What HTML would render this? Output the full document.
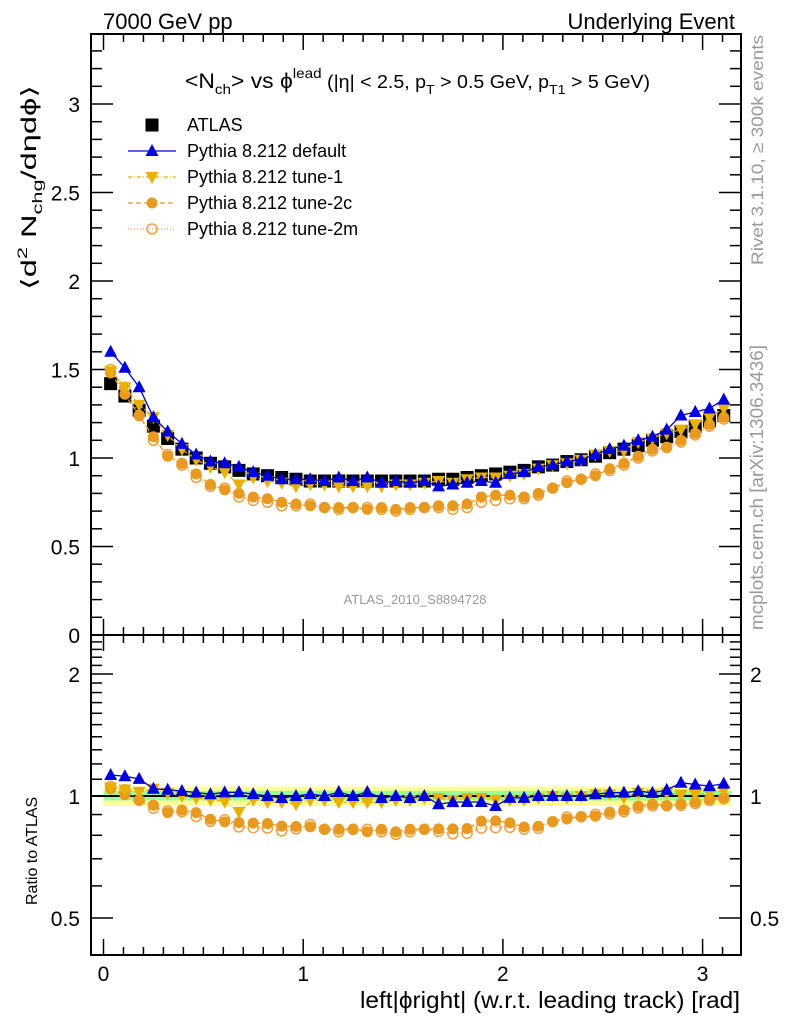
<!DOCTYPE html>
<html><head><meta charset="utf-8"><style>
html,body{margin:0;padding:0;background:#fff}
svg{display:block;font-family:"Liberation Sans",sans-serif}
</style></head><body>
<svg id="chart" width="786" height="1024" viewBox="0 0 786 1024" xmlns="http://www.w3.org/2000/svg">
<g id="bands"></g>
<g id="axes"></g>
<g id="marks"></g>
<text x="103" y="29" font-size="22">7000 GeV pp</text>
<text x="735" y="29" font-size="22" text-anchor="end">Underlying Event</text>
<text x="185" y="88" font-size="21" textLength="465" lengthAdjust="spacingAndGlyphs">&lt;N<tspan font-size="14" dy="6">ch</tspan><tspan dy="-6">&gt; vs ϕ</tspan><tspan font-size="14" dy="-10">lead</tspan><tspan font-size="18" dy="10"> (|η| &lt; 2.5, p</tspan><tspan font-size="13" dy="6">T</tspan><tspan font-size="18" dy="-6"> &gt; 0.5 GeV, p</tspan><tspan font-size="13" dy="6">T1</tspan><tspan font-size="18" dy="-6"> &gt; 5 GeV)</tspan></text>
<text transform="translate(36,290) rotate(-90)" font-size="21" textLength="205" lengthAdjust="spacingAndGlyphs">⟨d<tspan font-size="14" dy="-9">2</tspan><tspan dy="9"> N</tspan><tspan font-size="14" dy="6">chg</tspan><tspan dy="-6">/dηdϕ⟩</tspan></text>
<text transform="translate(37,905) rotate(-90)" font-size="16">Ratio to ATLAS</text>
<text x="740" y="1008" font-size="23" text-anchor="end" textLength="380" lengthAdjust="spacingAndGlyphs">left|ϕright| (w.r.t. leading track) [rad]</text>
<text x="415" y="604" font-size="13" fill="#999" text-anchor="middle">ATLAS_2010_S8894728</text>
<text transform="translate(763,265) rotate(-90)" font-size="17" fill="#999" textLength="230" lengthAdjust="spacingAndGlyphs">Rivet 3.1.10, ≥ 300k events</text>
<text transform="translate(763,630) rotate(-90)" font-size="18" fill="#999" textLength="285" lengthAdjust="spacingAndGlyphs">mcplots.cern.ch [arXiv:1306.3436]</text>
<g id="legend"></g>
</svg>
<script>
const xs=[];
const nb=44;
const atlas=[1.42,1.35,1.27,1.18,1.11,1.05,1.00,0.97,0.95,0.93,0.91,0.90,0.89,0.88,0.87,0.87,0.87,0.87,0.87,0.87,0.87,0.87,0.87,0.88,0.88,0.89,0.90,0.91,0.92,0.93,0.95,0.96,0.98,0.99,1.01,1.03,1.05,1.07,1.10,1.12,1.15,1.18,1.21,1.24];
const pDefault=[1.60,1.51,1.40,1.23,1.15,1.08,1.02,0.98,0.97,0.95,0.92,0.90,0.88,0.88,0.88,0.87,0.89,0.87,0.89,0.86,0.87,0.86,0.87,0.84,0.85,0.86,0.87,0.86,0.91,0.92,0.95,0.96,0.98,0.99,1.02,1.05,1.07,1.10,1.12,1.16,1.24,1.26,1.28,1.33];
const pTune1=[1.49,1.40,1.30,1.23,1.13,1.05,0.99,0.95,0.92,0.85,0.89,0.87,0.86,0.84,0.85,0.85,0.84,0.84,0.84,0.84,0.85,0.85,0.86,0.87,0.86,0.88,0.89,0.89,0.90,0.91,0.94,0.96,0.97,0.99,1.02,1.04,1.04,1.09,1.11,1.14,1.16,1.19,1.23,1.28];
const pTune2c=[1.48,1.36,1.24,1.12,1.01,0.97,0.91,0.85,0.82,0.80,0.78,0.77,0.75,0.74,0.73,0.72,0.72,0.72,0.71,0.72,0.71,0.72,0.72,0.73,0.73,0.74,0.78,0.79,0.79,0.78,0.80,0.83,0.86,0.88,0.90,0.94,0.97,1.01,1.05,1.06,1.10,1.14,1.19,1.23];
const pTune2m=[1.50,1.40,1.24,1.10,1.02,0.96,0.89,0.84,0.83,0.78,0.76,0.75,0.73,0.73,0.74,0.72,0.71,0.72,0.72,0.71,0.70,0.71,0.72,0.72,0.71,0.72,0.75,0.76,0.77,0.77,0.79,0.83,0.87,0.88,0.91,0.93,0.96,1.00,1.04,1.06,1.09,1.13,1.18,1.22];
const mainTicks=[0,0.5,1,1.5,2,2.5,3];
const mainTickLabels=["0","0.5","1","1.5","2","2.5","3"];
const ratioTicks=[0.5,1,2];
const ratioTickLabels=["0.5","1","2"];
const xTicks=[0,1,2,3];
const xTickLabels=["0","1","2","3"];
for(let i=0;i<nb;i++) xs.push((i+0.5)*Math.PI/nb);

const NS="http://www.w3.org/2000/svg";
const L=91,R=741,T1=34,B1=635,B2=955;
const X=v=>103.5+v*199.7;
const Y=v=>635-v*177;
const YR=v=>796-122*Math.log2(v);
function el(tag,attrs,parent){const e=document.createElementNS(NS,tag);for(const k in attrs)e.setAttribute(k,attrs[k]);parent.appendChild(e);return e;}
const axes=document.getElementById('axes'),marks=document.getElementById('marks'),bands=document.getElementById('bands'),leg=document.getElementById('legend');

let b1=el('rect',{x:X(0),y:YR(1.055),width:X(Math.PI)-X(0),height:YR(0.945)-YR(1.055),fill:'#ffff99'},bands);


let b2=el('rect',{x:X(0),y:YR(1.03),width:X(Math.PI)-X(0),height:YR(0.975)-YR(1.03),fill:'#99ff99'},bands);



for(const [t,b] of [[T1,B1],[B1,B2]]){
 const f=el('rect',{x:L,y:t,width:R-L,height:b-t,fill:'none',stroke:'#000','stroke-width':2},axes);
 
 
 for(let v=0;v<=3.2;v+=0.1){const x=X(v);if(x<L||x>R)continue;const major=Math.abs(v-Math.round(v))<1e-6;const len=major?16:8;
  el('line',{x1:x,x2:x,y1:b,y2:b-len,stroke:'#000','stroke-width':1.5},axes);
  el('line',{x1:x,x2:x,y1:t,y2:t+len,stroke:'#000','stroke-width':1.5},axes);}
}
el('line',{x1:L,x2:R,y1:YR(1),y2:YR(1),stroke:'#000','stroke-width':2},axes);
for(let v=0;v<=3.39;v+=0.1){const y=Y(v);const major=Math.abs(v*2-Math.round(v*2))<1e-6;const len=major?22:11;
 el('line',{x1:L,x2:L+len,y1:y,y2:y,stroke:'#000','stroke-width':1.5},axes);
 el('line',{x1:R,x2:R-len,y1:y,y2:y,stroke:'#000','stroke-width':1.5},axes);}
mainTicks.forEach((v,i)=>{const t=el('text',{x:80,y:Y(v)+8,'font-size':21,'text-anchor':'end'},axes);t.textContent=mainTickLabels[i];
 
 });
[0.5,0.6,0.7,0.8,0.9,1,1.1,1.2,1.3,1.4,1.5,1.6,1.7,1.8,1.9,2,2.1,2.2,2.3,2.4].forEach(v=>{const y=YR(v);const major=ratioTicks.includes(v);const len=major?22:11;
 el('line',{x1:L,x2:L+len,y1:y,y2:y,stroke:'#000','stroke-width':1.5},axes);
 el('line',{x1:R,x2:R-len,y1:y,y2:y,stroke:'#000','stroke-width':1.5},axes);});
ratioTicks.forEach((v,i)=>{for(const [x,a] of [[80,'end'],[750,'start']]){const t=el('text',{x:x,y:YR(v)+8,'font-size':21,'text-anchor':a},axes);t.textContent=ratioTickLabels[i];
 
 }});
xTicks.forEach((v,i)=>{const t=el('text',{x:X(v),y:981,'font-size':21,'text-anchor':'middle'},axes);t.textContent=xTickLabels[i];
 
 });

function marker(type,x,y,col,g){
 if(type==='sq')return el('rect',{x:x-6.5,y:y-6.5,width:13,height:13,fill:'#000'},g);
 if(type==='up')return el('polygon',{points:`${x},${y-7} ${x-6.5},${y+5} ${x+6.5},${y+5}`,fill:col},g);
 if(type==='dn')return el('polygon',{points:`${x},${y+7} ${x-6.5},${y-5} ${x+6.5},${y-5}`,fill:col},g);
 if(type==='dot')return el('circle',{cx:x,cy:y,r:5.5,fill:col},g);
 if(type==='ring')return el('circle',{cx:x,cy:y,r:5,fill:'none',stroke:col,'stroke-width':1.5},g);
}
const series=[
 {name:'pythia-tune-2m',vals:pTune2m,col:'#f0a040',m:'ring',dash:'1,2',label:'Pythia 8.212 tune-2m'},
 {name:'pythia-tune-2c',vals:pTune2c,col:'#e89a20',m:'dot',dash:'5,3',label:'Pythia 8.212 tune-2c'},
 {name:'pythia-tune-1',vals:pTune1,col:'#e8b000',m:'dn',dash:'4,2,1,2',label:'Pythia 8.212 tune-1'},
 {name:'pythia-default',vals:pDefault,col:'#0000dd',m:'up',dash:'',label:'Pythia 8.212 default'},
];
const ga=el('g',{},marks);


atlas.forEach((v,i)=>{const mk=marker('sq',X(xs[i]),Y(v),'#000',ga);
 
 });
series.forEach(s=>{
 for(const ratio of [false,true]){
  const g=el('g',{},marks);
  
  
  const pts=s.vals.map((v,i)=>[X(xs[i]),ratio?YR(v/atlas[i]):Y(v)]);
  const pl=el('polyline',{points:pts.map(p=>p.join(',')).join(' '),fill:'none',stroke:s.col,'stroke-width':1.3,'stroke-dasharray':s.dash},g);
  
  
  pts.forEach(p=>{const mk=marker(s.m,p[0],p[1],s.col,g);
   
   });
 }
});

const legItems=[{m:'sq',col:'#000',dash:null,label:'ATLAS'}].concat(series.slice().reverse());
legItems.forEach((s,i)=>{const y=125+i*26;
 const g=el('g',{},leg);
 
 
 if(s.dash!==null)el('line',{x1:128,x2:176,y1:y,y2:y,stroke:s.col,'stroke-width':1.3,'stroke-dasharray':s.dash},g);
 marker(s.m,152,y,s.col,g);
 const t=el('text',{x:187,y:y+6,'font-size':18},g);t.textContent=s.label;});
</script>
</body></html>
